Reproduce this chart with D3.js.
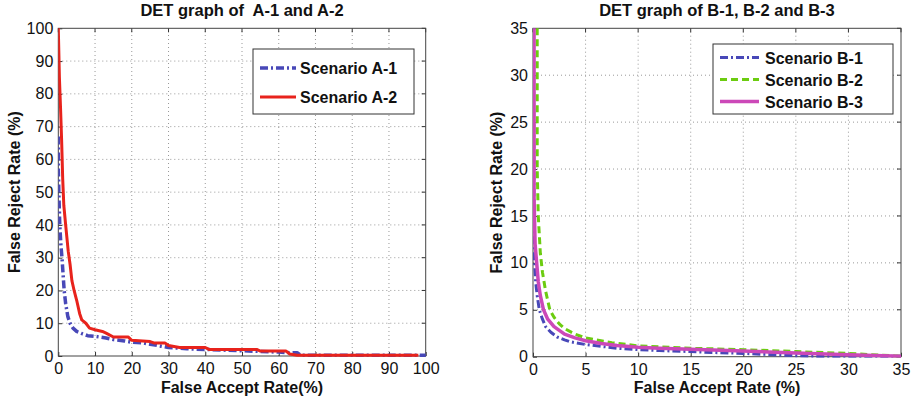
<!DOCTYPE html>
<html><head><meta charset="utf-8">
<script src="https://cdn.jsdelivr.net/npm/d3@7"></script>
<style>body{margin:0;background:#fff}text{font-family:"Liberation Sans",Arial,sans-serif}</style>
</head><body><svg id="c" width="914" height="401"></svg>
<script>
// Left chart data (FAR %, FRR %)
const a1FAR = [0,0,0.2,0.4,0.7,1.0,1.3,1.6,2.0,2.6,3.2,4.0,5.0,6.5,8.0,10,13,15,18,20,23,25,28,30,33,35,40,45,50,55,60,63,65,66,70,80,90,98,100];
const a1FRR = [67,57,48,40,34,30,25,20,16,12,10,8.5,7.5,6.8,6.2,6.0,5.5,5.0,4.6,4.2,4.0,3.6,3.0,2.6,2.4,2.2,2.0,1.8,1.6,1.4,1.2,1.0,1.0,0.2,0.2,0.2,0.2,0.2,0.2];
const a2FAR = [0,0.3,0.6,0.9,1.2,1.5,2.0,2.7,3.2,3.7,4.3,5.0,5.8,6.4,7.5,8.5,10,12,13,15,19,20,25,26,29,30,33,40,41,54,55,62,63,65,80,98];
const a2FRR = [100,85,76,66,54,46,40,32,28,23,20,17,13,11,10,8.5,8,7.5,7,5.8,5.8,4.8,4.4,4,4,3.2,2.6,2.6,2,2,1.5,1.5,0.6,0.2,0.2,0.2];
// Right chart data
const b1FAR = [0.05,0.1,0.15,0.25,0.4,0.6,0.9,1.2,1.7,2.3,3.0,3.5,5,6.5,8,10,12,15,17,20,22,25,27,30,35];
const b1FRR = [35,12,10,8,6.5,5,4,3.2,2.6,2.1,1.8,1.6,1.3,1.1,0.9,0.75,0.65,0.55,0.45,0.35,0.25,0.1,0.05,0.05,0.05];
const b2FAR = [0.4,0.4,0.5,0.7,0.9,1.2,1.6,2.0,2.5,3.0,4.0,5.0,6.0,7.5,10,12,15,20,25,30,35];
const b2FRR = [35,20,15,11,9,7,5,4.2,3.5,3.0,2.4,2.0,1.8,1.5,1.15,1.05,0.9,0.75,0.55,0.35,0.05];
const b3FAR = [0.1,0.1,0.2,0.35,0.5,0.7,1.0,1.4,2.0,2.5,3.0,4.0,5.0,6.5,8.0,10,12,15,20,25,30,35];
const b3FRR = [35,17,12,10,8,6.5,5,4,3.2,2.8,2.4,2.0,1.7,1.4,1.2,1.0,0.9,0.8,0.6,0.4,0.2,0.05];

const leftTicks = [0,10,20,30,40,50,60,70,80,90,100];
const rightTicks = [0,5,10,15,20,25,30,35];

const svg = d3.select("#c");

function panel(o){
  const g = svg.append("g");
  const x = d3.scaleLinear().domain(o.xd).range([o.x0,o.x1]);
  const y = d3.scaleLinear().domain(o.yd).range([o.y0,o.y1]);
  // grid
  o.ticks.forEach(t=>{
    if(t!==o.xd[0] && t!==o.xd[1]) g.append("line").attr("x1",x(t)).attr("x2",x(t)).attr("y1",o.y0).attr("y2",o.y1)
      .attr("stroke","#999").attr("stroke-dasharray","1,3").attr("stroke-width",1);
    if(t!==o.yd[0] && t!==o.yd[1]) g.append("line").attr("y1",y(t)).attr("y2",y(t)).attr("x1",o.x0).attr("x2",o.x1)
      .attr("stroke","#999").attr("stroke-dasharray","1,3").attr("stroke-width",1);
  });
  // axes with inward ticks
  const ax = d3.axisBottom(x).tickValues(o.ticks).tickSize(-4).tickPadding(7).tickFormat(d3.format("d"));
  const ay = d3.axisLeft(y).tickValues(o.ticks).tickSize(-4).tickPadding(5).tickFormat(d3.format("d"));
  const gx = g.append("g").attr("transform",`translate(0,${o.y0})`).call(ax);
  const gy = g.append("g").attr("transform",`translate(${o.x0},0)`).call(ay);
  [gx,gy].forEach(a=>{a.select(".domain").remove();a.selectAll("text").attr("font-size",16).attr("fill","#111").style("font-family","Liberation Sans, Arial");a.selectAll("line").attr("stroke","#333");});
  // top/right ticks
  o.ticks.forEach(t=>{
    g.append("line").attr("x1",x(t)).attr("x2",x(t)).attr("y1",o.y1).attr("y2",o.y1+4).attr("stroke","#333");
    g.append("line").attr("y1",y(t)).attr("y2",y(t)).attr("x1",o.x1).attr("x2",o.x1-4).attr("stroke","#333");
  });
  g.append("rect").attr("x",o.x0).attr("y",o.y1).attr("width",o.x1-o.x0).attr("height",o.y0-o.y1)
   .attr("fill","none").attr("stroke","#444").attr("stroke-width",1);
  // clip
  const cid = "clip"+o.id;
  svg.append("clipPath").attr("id",cid).append("rect").attr("x",o.x0).attr("y",o.y1-2).attr("width",o.x1-o.x0+2).attr("height",o.y0-o.y1+3);
  const line = d3.line().x(d=>x(d[0])).y(d=>y(d[1]));
  o.series.forEach(s=>{
    g.append("path").attr("clip-path",`url(#${cid})`).datum(d3.zip(s.xs,s.ys)).attr("d",line)
     .attr("fill","none").attr("stroke",s.color).attr("stroke-width",s.w).attr("stroke-dasharray",s.dash||null)
     .attr("stroke-linejoin","round");
  });
  // titles
  g.append("text").attr("x",(o.x0+o.x1)/2).attr("y",16).attr("text-anchor","middle").attr("font-weight","bold").attr("font-size",16.5).attr("fill","#111").attr("xml:space","preserve").text(o.title);
  g.append("text").attr("x",(o.x0+o.x1)/2).attr("y",393).attr("text-anchor","middle").attr("font-weight","bold").attr("font-size",16).attr("fill","#111").text(o.xlabel);
  g.append("text").attr("transform",`translate(${o.ylx},${(o.y0+o.y1)/2}) rotate(-90)`).attr("text-anchor","middle").attr("font-weight","bold").attr("font-size",16).attr("fill","#111").text("False Reject Rate (%)");
  // legend
  const L = o.legend;
  g.append("rect").attr("x",L.x).attr("y",L.y).attr("width",L.w).attr("height",L.h).attr("fill","#fff").attr("stroke","#333").attr("stroke-width",1);
  o.series.forEach((s,i)=>{
    const yy = L.y + L.first + i*L.step;
    g.append("line").attr("x1",L.x+L.lx0).attr("x2",L.x+L.lx1).attr("y1",yy).attr("y2",yy)
     .attr("stroke",s.color).attr("stroke-width",s.w).attr("stroke-dasharray",s.dash||null);
    g.append("text").attr("x",L.x+L.tx).attr("y",yy+6).attr("font-weight","bold").attr("font-size",16).attr("fill","#111").text(s.name);
  });
}

panel({id:"L", xd:[0,100], yd:[0,100], x0:58.3, x1:425.7, y0:356, y1:28.3, ticks:leftTicks,
  title:"DET graph of  A-1 and A-2", xlabel:"False Accept Rate(%)", ylx:20,
  legend:{x:253,y:49,w:161,h:65,first:19,step:29,lx0:7,lx1:43,tx:47},
  series:[
    {name:"Scenario A-1", xs:a1FAR, ys:a1FRR, color:"#4848b8", w:3.5, dash:"8,3,2,3"},
    {name:"Scenario A-2", xs:a2FAR, ys:a2FRR, color:"#e8231c", w:3}
  ]});
panel({id:"R", xd:[0,35], yd:[0,35], x0:533, x1:901, y0:356.7, y1:28.3, ticks:rightTicks,
  title:"DET graph of B-1, B-2 and B-3", xlabel:"False Accept Rate (%)", ylx:502,
  legend:{x:713,y:44,w:180,h:70,first:13.5,step:22,lx0:7,lx1:46,tx:52},
  series:[
    {name:"Scenario B-1", xs:b1FAR, ys:b1FRR, color:"#4848b8", w:3, dash:"8,3,2,3"},
    {name:"Scenario B-2", xs:b2FAR, ys:b2FRR, color:"#6ccc10", w:3, dash:"7,4"},
    {name:"Scenario B-3", xs:b3FAR, ys:b3FRR, color:"#cc48b8", w:3.5}
  ]});
</script></body></html>
